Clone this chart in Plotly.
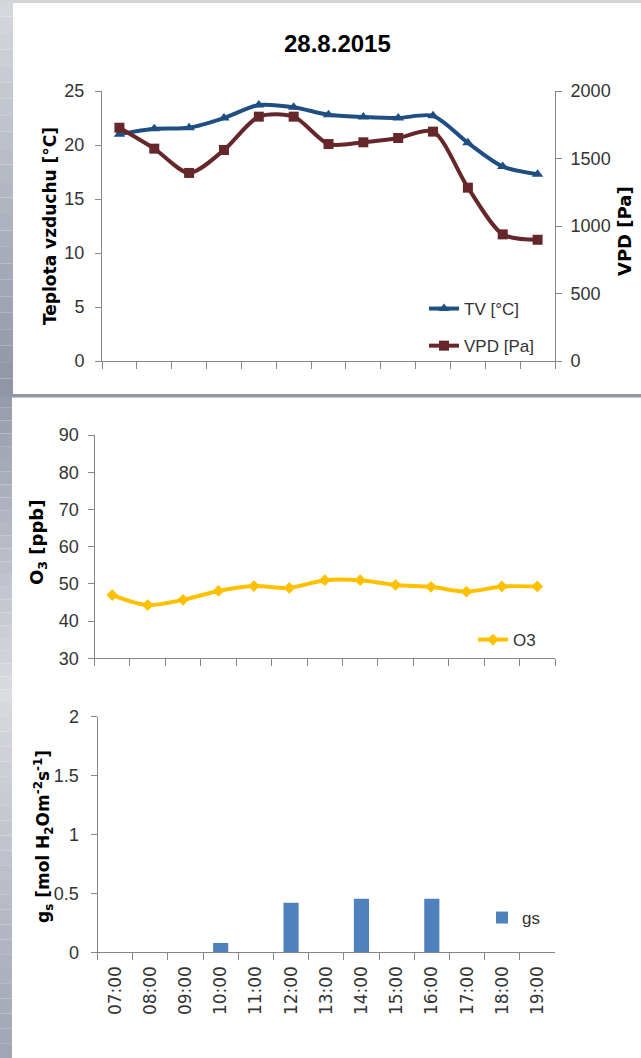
import plotly.graph_objects as go

# ---------------- data ----------------
times = ["07:00", "08:00", "09:00", "10:00", "11:00", "12:00", "13:00",
         "14:00", "15:00", "16:00", "17:00", "18:00", "19:00"]
tv = [21.0, 21.5, 21.6, 22.5, 23.7, 23.5, 22.8, 22.6, 22.5, 22.7, 20.2, 18.0, 17.3]
vpd = [1728, 1573, 1393, 1563, 1810, 1810, 1607, 1620, 1652, 1699, 1284, 938, 898]
o3 = [47.0, 44.3, 45.7, 48.1, 49.4, 48.9, 51.0, 51.0, 49.7, 49.2, 47.9, 49.3, 49.3]
gs = [None, None, None, 0.08, None, 0.42, None, 0.455, None, 0.455, None, None, None]

W, H = 641, 1058
NARROW = "Liberation Sans Narrow, Liberation Sans, Arial, sans-serif"
BOLDT = "DejaVu Sans, Verdana, sans-serif"
AX = "#868686"
TXT = "#333333"

fig = go.Figure()

fig.add_trace(go.Scatter(x=times, y=tv, name="TV [°C]", mode="lines+markers",
                         line=dict(color="#1F4E82", width=4, shape="spline", smoothing=0.8),
                         marker=dict(symbol="triangle-up", size=10, color="#1F4E82"),
                         xaxis="x", yaxis="y", legend="legend", legendgroup="a"))
fig.add_trace(go.Scatter(x=times, y=vpd, name="VPD [Pa]", mode="lines+markers",
                         line=dict(color="#66272A", width=4, shape="spline", smoothing=0.8),
                         marker=dict(symbol="square", size=10, color="#66272A"),
                         xaxis="x", yaxis="y2", legend="legend", legendgroup="b"))
fig.add_trace(go.Scatter(x=times, y=o3, name="O3", mode="lines+markers",
                         line=dict(color="#FFC000", width=4, shape="spline", smoothing=0.8),
                         marker=dict(symbol="diamond", size=9, color="#FFC000"),
                         xaxis="x2", yaxis="y3", legend="legend2"))
fig.add_trace(go.Bar(x=times, y=gs, name="gs", marker=dict(color="#4F81BD", line=dict(width=0)),
                     xaxis="x3", yaxis="y4", legend="legend3"))


def px_x(p):
    return p / W


def px_y(p):
    return 1 - p / H


xcommon = dict(type="category", showline=True, linecolor=AX, linewidth=1,
               ticks="outside", tickson="boundaries", ticklen=7, tickcolor=AX,
               showgrid=False, zeroline=False, range=[-0.5, 12.5], automargin=False,
               categoryorder="array", categoryarray=times)


def ycommon(standoff):
    return dict(showline=True, linecolor=AX, linewidth=1, ticks="outside", ticklen=6,
                tickcolor=AX, showgrid=False, zeroline=False, ticklabelstandoff=standoff,
                automargin=False,
                tickfont=dict(family=NARROW, size=18, color=TXT))


fig.update_layout(
    width=W, height=H,
    margin=dict(l=0, r=0, t=0, b=0, pad=0, autoexpand=False),
    paper_bgcolor="white", plot_bgcolor="rgba(0,0,0,0)",
    showlegend=True, barmode="group", bargap=0.57,
    xaxis=dict(domain=[px_x(102), px_x(555)], anchor="y", showticklabels=False, **xcommon),
    yaxis=dict(domain=[px_y(361), px_y(91)], range=[0, 25], dtick=5, anchor="x", **ycommon(7)),
    yaxis2=dict(overlaying="y", side="right", range=[0, 2000], dtick=500, anchor="x", **ycommon(5)),
    xaxis2=dict(domain=[px_x(94.5), px_x(555)], anchor="y3", showticklabels=False, **xcommon),
    yaxis3=dict(domain=[px_y(658.3), px_y(435)], range=[30, 90], dtick=10, anchor="x2", **ycommon(5)),
    xaxis3=dict(domain=[px_x(97.5), px_x(555)], anchor="y4", showticklabels=True, tickangle=-90,
                ticklabelstandoff=6,
                tickfont=dict(family=BOLDT, size=17, color=TXT), **xcommon),
    yaxis4=dict(domain=[px_y(952.3), px_y(716.7)], range=[0, 2], dtick=0.5, anchor="x3", **ycommon(8)),
    legend=dict(x=px_x(424), y=px_y(291), xanchor="left", yanchor="top",
                bgcolor="rgba(0,0,0,0)", font=dict(family=NARROW, size=17, color=TXT),
                traceorder="grouped", tracegroupgap=12, itemwidth=30),
    legend2=dict(x=px_x(473), y=px_y(622), xanchor="left", yanchor="top",
                 bgcolor="rgba(0,0,0,0)", font=dict(family=NARROW, size=17, color=TXT)),
    legend3=dict(x=px_x(482), y=px_y(900), xanchor="left", yanchor="top",
                 bgcolor="rgba(0,0,0,0)", font=dict(family=NARROW, size=17, color=TXT)),
)

# ---------------- background frame (slide-like) ----------------
shapes = []


def lerp(c1, c2, t):
    return "rgb(%d,%d,%d)" % tuple(round(a + (b - a) * t) for a, b in zip(c1, c2))


def strip(y0, y1, x1, ctop, cbot, n=24):
    for i in range(n):
        ya = y0 + (y1 - y0) * i / n
        yb = y0 + (y1 - y0) * (i + 1) / n
        shapes.append(dict(type="rect", xref="paper", yref="paper", layer="below",
                           x0=0, x1=px_x(x1), y0=px_y(yb), y1=px_y(ya),
                           fillcolor=lerp(ctop, cbot, (i + 0.5) / n), line=dict(width=0)))


strip(0, 395, 13, (214, 216, 221), (142, 148, 166))
strip(395, 702, 12, (150, 155, 172), (220, 221, 224))
strip(702, 1058, 12, (216, 217, 221), (160, 164, 180))
shapes.append(dict(type="rect", xref="paper", yref="paper", layer="below",
                   x0=0, x1=1, y0=px_y(3), y1=1, fillcolor="rgb(210,212,216)", line=dict(width=0)))
shapes.append(dict(type="rect", xref="paper", yref="paper", layer="below",
                   x0=0, x1=1, y0=px_y(397.5), y1=px_y(394), fillcolor="rgb(146,151,168)",
                   line=dict(width=0)))
fig.update_layout(shapes=shapes)

# ---------------- titles ----------------
ann = [
    dict(text="<b>28.8.2015</b>", x=px_x(338), y=px_y(43),
         font=dict(family=NARROW, size=24, color="#000000"), textangle=0),
    dict(text="<b>Teplota vzduchu [°C]</b>", x=px_x(50), y=px_y(226),
         font=dict(family=BOLDT, size=17, color="#000000"), textangle=-90),
    dict(text="<b>VPD [Pa]</b>", x=px_x(625), y=px_y(231),
         font=dict(family=BOLDT, size=18, color="#000000"), textangle=-90),
    dict(text="<b>O<sub>3</sub> [ppb]</b>", x=px_x(38), y=px_y(543),
         font=dict(family=BOLDT, size=18, color="#000000"), textangle=-90),
    dict(text="<b>g<sub>s</sub> [mol H<sub>2</sub>Om<sup>-2</sup>s<sup>-1</sup>]</b>",
         x=px_x(43), y=px_y(837),
         font=dict(family=BOLDT, size=17, color="#000000"), textangle=-90),
]
for a in ann:
    a.update(xref="paper", yref="paper", showarrow=False, xanchor="center", yanchor="middle")
fig.update_layout(annotations=ann)

fig.write_html("out.html", config={"displayModeBar": False},
               post_script="document.body.style.margin='0';document.body.style.overflow='hidden';")
